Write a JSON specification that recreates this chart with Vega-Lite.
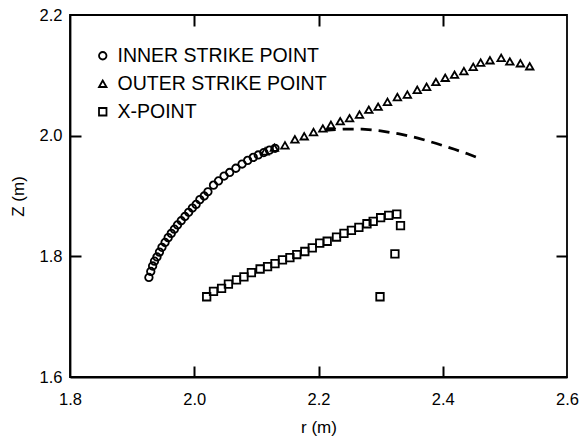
{
  "$schema": "https://vega.github.io/schema/vega-lite/v6.json",
  "width": 497,
  "height": 362,
  "autosize": "none",
  "padding": {"left": 70, "top": 15, "right": 15, "bottom": 66},
  "background": "white",
  "config": {
    "view": {"stroke": "black", "strokeWidth": 1.8},
    "font": "Liberation Sans",
    "axis": {
      "grid": false,
      "domainColor": "black",
      "domainWidth": 1.8,
      "tickColor": "black",
      "tickWidth": 2,
      "tickSize": 11,
      "labelColor": "black",
      "labelFont": "Liberation Sans",
      "labelFontSize": 16.5,
      "labelFlush": false,
      "labelOverlap": false,
      "titleColor": "black",
      "titleFont": "Liberation Sans",
      "titleFontSize": 17,
      "titleFontWeight": "normal"
    }
  },
  "datasets": {
    "pts": [
      {"series": "INNER STRIKE POINT", "r": 1.927, "z": 1.765},
      {"series": "INNER STRIKE POINT", "r": 1.930, "z": 1.775},
      {"series": "INNER STRIKE POINT", "r": 1.933, "z": 1.784},
      {"series": "INNER STRIKE POINT", "r": 1.936, "z": 1.792},
      {"series": "INNER STRIKE POINT", "r": 1.940, "z": 1.799},
      {"series": "INNER STRIKE POINT", "r": 1.944, "z": 1.807},
      {"series": "INNER STRIKE POINT", "r": 1.948, "z": 1.815},
      {"series": "INNER STRIKE POINT", "r": 1.953, "z": 1.823},
      {"series": "INNER STRIKE POINT", "r": 1.958, "z": 1.831},
      {"series": "INNER STRIKE POINT", "r": 1.963, "z": 1.838},
      {"series": "INNER STRIKE POINT", "r": 1.968, "z": 1.845},
      {"series": "INNER STRIKE POINT", "r": 1.973, "z": 1.852},
      {"series": "INNER STRIKE POINT", "r": 1.979, "z": 1.859},
      {"series": "INNER STRIKE POINT", "r": 1.985, "z": 1.866},
      {"series": "INNER STRIKE POINT", "r": 1.991, "z": 1.873},
      {"series": "INNER STRIKE POINT", "r": 1.997, "z": 1.880},
      {"series": "INNER STRIKE POINT", "r": 2.003, "z": 1.886},
      {"series": "INNER STRIKE POINT", "r": 2.009, "z": 1.894},
      {"series": "INNER STRIKE POINT", "r": 2.016, "z": 1.900},
      {"series": "INNER STRIKE POINT", "r": 2.022, "z": 1.907},
      {"series": "INNER STRIKE POINT", "r": 2.031, "z": 1.918},
      {"series": "INNER STRIKE POINT", "r": 2.039, "z": 1.925},
      {"series": "INNER STRIKE POINT", "r": 2.048, "z": 1.933},
      {"series": "INNER STRIKE POINT", "r": 2.057, "z": 1.939},
      {"series": "INNER STRIKE POINT", "r": 2.067, "z": 1.946},
      {"series": "INNER STRIKE POINT", "r": 2.077, "z": 1.953},
      {"series": "INNER STRIKE POINT", "r": 2.086, "z": 1.959},
      {"series": "INNER STRIKE POINT", "r": 2.095, "z": 1.964},
      {"series": "INNER STRIKE POINT", "r": 2.103, "z": 1.968},
      {"series": "INNER STRIKE POINT", "r": 2.112, "z": 1.972},
      {"series": "INNER STRIKE POINT", "r": 2.121, "z": 1.976},
      {"series": "INNER STRIKE POINT", "r": 2.130, "z": 1.979},
      {"series": "OUTER STRIKE POINT", "r": 2.114, "z": 1.974},
      {"series": "OUTER STRIKE POINT", "r": 2.129, "z": 1.980},
      {"series": "OUTER STRIKE POINT", "r": 2.146, "z": 1.984},
      {"series": "OUTER STRIKE POINT", "r": 2.162, "z": 1.994},
      {"series": "OUTER STRIKE POINT", "r": 2.177, "z": 1.999},
      {"series": "OUTER STRIKE POINT", "r": 2.192, "z": 2.006},
      {"series": "OUTER STRIKE POINT", "r": 2.207, "z": 2.012},
      {"series": "OUTER STRIKE POINT", "r": 2.220, "z": 2.018},
      {"series": "OUTER STRIKE POINT", "r": 2.235, "z": 2.024},
      {"series": "OUTER STRIKE POINT", "r": 2.250, "z": 2.029},
      {"series": "OUTER STRIKE POINT", "r": 2.266, "z": 2.035},
      {"series": "OUTER STRIKE POINT", "r": 2.281, "z": 2.043},
      {"series": "OUTER STRIKE POINT", "r": 2.296, "z": 2.048},
      {"series": "OUTER STRIKE POINT", "r": 2.311, "z": 2.056},
      {"series": "OUTER STRIKE POINT", "r": 2.327, "z": 2.064},
      {"series": "OUTER STRIKE POINT", "r": 2.343, "z": 2.068},
      {"series": "OUTER STRIKE POINT", "r": 2.359, "z": 2.076},
      {"series": "OUTER STRIKE POINT", "r": 2.374, "z": 2.081},
      {"series": "OUTER STRIKE POINT", "r": 2.389, "z": 2.089},
      {"series": "OUTER STRIKE POINT", "r": 2.404, "z": 2.096},
      {"series": "OUTER STRIKE POINT", "r": 2.419, "z": 2.101},
      {"series": "OUTER STRIKE POINT", "r": 2.434, "z": 2.107},
      {"series": "OUTER STRIKE POINT", "r": 2.449, "z": 2.114},
      {"series": "OUTER STRIKE POINT", "r": 2.461, "z": 2.121},
      {"series": "OUTER STRIKE POINT", "r": 2.476, "z": 2.125},
      {"series": "OUTER STRIKE POINT", "r": 2.494, "z": 2.129},
      {"series": "OUTER STRIKE POINT", "r": 2.508, "z": 2.123},
      {"series": "OUTER STRIKE POINT", "r": 2.525, "z": 2.120},
      {"series": "OUTER STRIKE POINT", "r": 2.540, "z": 2.115},
      {"series": "X-POINT", "r": 2.020, "z": 1.733},
      {"series": "X-POINT", "r": 2.031, "z": 1.742},
      {"series": "X-POINT", "r": 2.044, "z": 1.747},
      {"series": "X-POINT", "r": 2.055, "z": 1.754},
      {"series": "X-POINT", "r": 2.068, "z": 1.761},
      {"series": "X-POINT", "r": 2.080, "z": 1.766},
      {"series": "X-POINT", "r": 2.092, "z": 1.773},
      {"series": "X-POINT", "r": 2.106, "z": 1.779},
      {"series": "X-POINT", "r": 2.118, "z": 1.783},
      {"series": "X-POINT", "r": 2.130, "z": 1.788},
      {"series": "X-POINT", "r": 2.142, "z": 1.794},
      {"series": "X-POINT", "r": 2.154, "z": 1.798},
      {"series": "X-POINT", "r": 2.165, "z": 1.803},
      {"series": "X-POINT", "r": 2.178, "z": 1.808},
      {"series": "X-POINT", "r": 2.190, "z": 1.814},
      {"series": "X-POINT", "r": 2.202, "z": 1.822},
      {"series": "X-POINT", "r": 2.214, "z": 1.825},
      {"series": "X-POINT", "r": 2.229, "z": 1.832},
      {"series": "X-POINT", "r": 2.241, "z": 1.838},
      {"series": "X-POINT", "r": 2.253, "z": 1.843},
      {"series": "X-POINT", "r": 2.265, "z": 1.848},
      {"series": "X-POINT", "r": 2.278, "z": 1.854},
      {"series": "X-POINT", "r": 2.288, "z": 1.858},
      {"series": "X-POINT", "r": 2.300, "z": 1.864},
      {"series": "X-POINT", "r": 2.313, "z": 1.868},
      {"series": "X-POINT", "r": 2.326, "z": 1.870},
      {"series": "X-POINT", "r": 2.332, "z": 1.851},
      {"series": "X-POINT", "r": 2.323, "z": 1.804},
      {"series": "X-POINT", "r": 2.299, "z": 1.733}
    ],
    "dash": [
      {"r": 2.210, "z": 2.009},
      {"r": 2.240, "z": 2.011},
      {"r": 2.270, "z": 2.011},
      {"r": 2.300, "z": 2.008},
      {"r": 2.330, "z": 2.003},
      {"r": 2.360, "z": 1.996},
      {"r": 2.390, "z": 1.987},
      {"r": 2.420, "z": 1.977},
      {"r": 2.440, "z": 1.970},
      {"r": 2.460, "z": 1.962}
    ]
  },
  "layer": [
    {
      "data": {"name": "dash"},
      "mark": {"type": "line", "color": "black", "strokeWidth": 2.8, "strokeDash": [11, 7]},
      "encoding": {
        "x": {"field": "r", "type": "quantitative", "scale": {"domain": [1.8, 2.6]},
              "axis": {"orient": "top", "offset": -362, "domain": false, "labels": false, "title": null, "values": [2.0, 2.2, 2.4]}},
        "y": {"field": "z", "type": "quantitative", "scale": {"domain": [1.6, 2.2]},
              "axis": {"orient": "right", "offset": -497, "domain": false, "labels": false, "title": null, "values": [1.8, 2.0]}}
      }
    },
    {
      "data": {"name": "dash"},
      "mark": {"type": "line", "color": "black", "strokeWidth": 2.8, "strokeDash": [11, 7], "opacity": 0},
      "encoding": {
        "x": {"field": "r", "type": "quantitative", "scale": {"domain": [1.8, 2.6]},
              "axis": {"orient": "bottom", "offset": -362, "domain": false, "labels": false, "title": null, "values": [2.0, 2.2, 2.4]}},
        "y": {"field": "z", "type": "quantitative", "scale": {"domain": [1.6, 2.2]},
              "axis": {"orient": "left", "offset": -497, "domain": false, "labels": false, "title": null, "values": [1.8, 2.0]}}
      }
    },
    {
      "data": {"name": "pts"},
      "mark": {"type": "point", "filled": false, "strokeWidth": 1.8, "opacity": 1, "size": 56, "color": "black"},
      "encoding": {
        "x": {"field": "r", "type": "quantitative", "scale": {"domain": [1.8, 2.6]},
              "axis": {"orient": "bottom", "title": "r (m)", "ticks": false, "values": [1.8, 2.0, 2.2, 2.4, 2.6], "format": ".1f", "labelPadding": 14, "titlePadding": 12}},
        "y": {"field": "z", "type": "quantitative", "scale": {"domain": [1.6, 2.2]},
              "axis": {"orient": "left", "title": "Z (m)", "ticks": false, "values": [1.6, 1.8, 2.0, 2.2], "format": ".1f", "labelPadding": 8, "titlePadding": 12}},
        "shape": {
          "field": "series", "type": "nominal",
          "scale": {"domain": ["INNER STRIKE POINT", "OUTER STRIKE POINT", "X-POINT"], "range": ["circle", "triangle-up", "square"]},
          "legend": {
            "orient": "none", "legendX": 23, "legendY": 31, "title": null,
            "labelFont": "Liberation Sans", "labelFontSize": 19.5, "labelColor": "black", "labelLimit": 0,
            "labelOffset": 5, "rowPadding": 7, "symbolSize": 56,
            "symbolStrokeColor": "black", "symbolStrokeWidth": 1.8, "symbolFillColor": "transparent"
          }
        }
      }
    }
  ],
  "resolve": {"axis": {"x": "independent", "y": "independent"}}
}
